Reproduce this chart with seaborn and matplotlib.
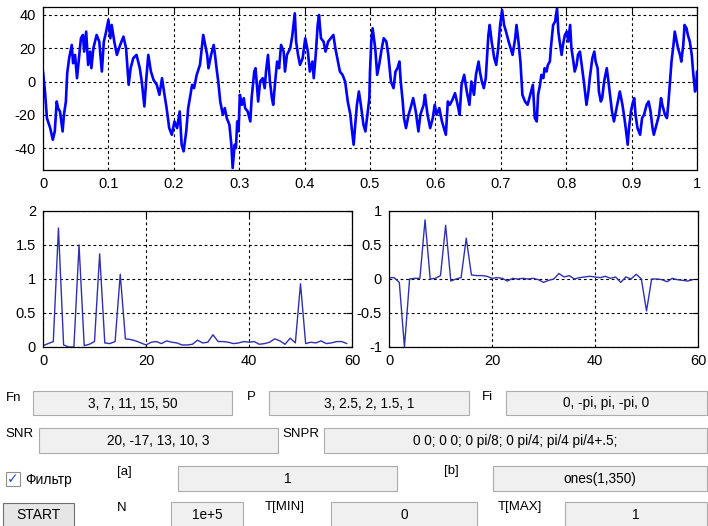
import matplotlib
matplotlib.use("Agg")
import matplotlib.pyplot as plt
from matplotlib.patches import Rectangle
import pandas as pd
import seaborn as sns

# ---- time-domain signal (t, amplitude) ----
signal_t = [
    0.000, 0.003, 0.006, 0.011, 0.015, 0.018, 0.021, 0.023, 0.026, 0.030, 0.032, 0.035, 0.037, 0.040,
    0.044, 0.046, 0.049, 0.052, 0.054, 0.058, 0.061, 0.063, 0.066, 0.069, 0.072, 0.074, 0.077, 0.082,
    0.086, 0.090, 0.093, 0.096, 0.100, 0.103, 0.105, 0.109, 0.113, 0.118, 0.123, 0.127, 0.131, 0.134,
    0.138, 0.143, 0.148, 0.151, 0.155, 0.158, 0.161, 0.165, 0.169, 0.174, 0.178, 0.182, 0.185, 0.189,
    0.193, 0.197, 0.201, 0.205, 0.209, 0.212, 0.215, 0.219, 0.222, 0.228, 0.231, 0.235, 0.240, 0.245,
    0.251, 0.253, 0.257, 0.261, 0.263, 0.266, 0.268, 0.271, 0.275, 0.278, 0.281, 0.285, 0.288, 0.290,
    0.293, 0.295, 0.297, 0.299, 0.301, 0.304, 0.307, 0.309, 0.313, 0.317, 0.319, 0.323, 0.325, 0.329,
    0.332, 0.336, 0.339, 0.341, 0.344, 0.347, 0.350, 0.352, 0.355, 0.358, 0.361, 0.364, 0.368, 0.370,
    0.373, 0.378, 0.381, 0.385, 0.387, 0.390, 0.393, 0.397, 0.401, 0.405, 0.408, 0.412, 0.414, 0.417,
    0.420, 0.422, 0.425, 0.429, 0.432, 0.436, 0.440, 0.444, 0.447, 0.451, 0.454, 0.458, 0.462, 0.466,
    0.470, 0.472, 0.475, 0.477, 0.480, 0.483, 0.486, 0.490, 0.493, 0.496, 0.499, 0.500,
    0.502, 0.504, 0.508, 0.511, 0.514, 0.518, 0.521, 0.525, 0.528, 0.532, 0.536, 0.539, 0.542, 0.545,
    0.547, 0.550, 0.552, 0.555, 0.559, 0.562, 0.566, 0.570, 0.574, 0.577, 0.582, 0.584, 0.588, 0.592,
    0.596, 0.599, 0.602, 0.606, 0.610, 0.613, 0.616, 0.619, 0.622, 0.626, 0.630, 0.634, 0.637, 0.640,
    0.644, 0.648, 0.652, 0.655, 0.659, 0.662, 0.666, 0.668, 0.671, 0.674, 0.677, 0.681, 0.683, 0.686,
    0.690, 0.693, 0.696, 0.699, 0.702, 0.705, 0.708, 0.712, 0.715, 0.718, 0.722, 0.724, 0.727, 0.730,
    0.733, 0.737, 0.741, 0.745, 0.749,
    0.752, 0.755, 0.757, 0.760, 0.762, 0.765, 0.767, 0.770, 0.772, 0.775, 0.777, 0.780, 0.783, 0.786,
    0.788, 0.790, 0.793, 0.795, 0.798, 0.801, 0.803, 0.806, 0.808, 0.811, 0.813, 0.816, 0.818, 0.821,
    0.823, 0.827, 0.831, 0.834, 0.836, 0.840, 0.843, 0.845, 0.848, 0.850, 0.853, 0.855, 0.858, 0.862,
    0.864, 0.867, 0.870, 0.873, 0.876, 0.879, 0.882, 0.886, 0.889, 0.891, 0.894, 0.896, 0.899, 0.901,
    0.904, 0.906, 0.909, 0.913, 0.916, 0.919, 0.923, 0.926, 0.929, 0.932, 0.934, 0.938, 0.942, 0.945,
    0.947, 0.951, 0.954, 0.956, 0.958, 0.961, 0.964, 0.966, 0.969, 0.971, 0.974, 0.976, 0.979, 0.981,
    0.984, 0.986, 0.989, 0.992, 0.994, 0.997, 0.999, 1.000,
]
signal_v = [
    6, -6, -22, -28, -35, -30, -12, -16, -18, -30, -20, -12, 5, 14,
    22, 11, 16, 2, 10, 26, 28, 18, 30, 10, 18, 8, 20, 28,
    24, 6, 24, 29, 37, 26, 34, 24, 16, 22, 27, 20, -2, 8,
    14, 16, 8, 0, -15, 2, 16, 6, 1, -2, -8, 2, -6, -16,
    -28, -32, -24, -28, -18, -38, -42, -30, -16, -2, -4, 4, 10, 28,
    16, 8, 16, 22, 16, 6, 0, -12, -20, -16, -22, -26, -38, -52,
    -38, -40, -24, -30, -8, -14, -10, -16, -18, -24, -10, 6, 8, -12,
    0, 2, -4, 6, 16, 0, -10, -14, 0, 12, 8, 22, 18, 6,
    16, 20, 27, 41, 24, 16, 10, 14, 26, 18, 6, 12, 2, 16,
    34, 40, 26, 24, 18, 24, 26, 28, 20, 12, 6, 4, 0, -12,
    -20, -28, -38, -28, -14, -6, -14, -26, -30, -20, -10, 6,
    24, 32, 20, 4, 10, 20, 26, 24, 16, 0, -4, 6, 8, 12,
    0, -12, -22, -28, -20, -16, -10, -18, -30, -20, -14, -8, -20, -28,
    -22, -14, -20, -16, -24, -28, -32, -12, -14, -11, -7, -14, -20, -2,
    4, -6, -14, 0, -8, 4, 12, 6, 0, -4, 2, 28, 34, 24,
    14, 10, 20, 34, 43, 34, 30, 24, 20, 16, 26, 34, 24, 12,
    -8, -12, -14, -8, -2,
    -22, -24, -8, -2, 4, 2, 8, 6, 10, 12, 22, 34, 36, 44,
    30, 24, 16, 22, 28, 30, 24, 34, 20, 12, 6, 10, 16, 18,
    12, 0, -14, -6, 2, 14, 18, 12, 8, -6, -12, -10, 0, 8,
    2, -8, -18, -24, -18, -12, -6, -14, -22, -28, -38, -28, -18, -14,
    -10, -20, -28, -32, -22, -20, -14, -12, -18, -28, -32, -26, -20, -10,
    -14, -20, -22, -14, -4, 12, 22, 30, 24, 20, 16, 12, 22, 34,
    32, 28, 24, 16, 6, -6, -2, 6,
]

# ---- spectra, 0..59 Hz ----
freq_hz = list(range(60))
amplitude = [
    0.02, 0.05, 0.08, 1.75, 0.03, 0.00, 0.00, 1.50, 0.02, 0.04,
    0.08, 1.37, 0.06, 0.05, 0.08, 1.07, 0.12, 0.11, 0.09, 0.06,
    0.03, 0.07, 0.08, 0.05, 0.09, 0.07, 0.06, 0.03, 0.03, 0.04,
    0.10, 0.06, 0.07, 0.18, 0.08, 0.08, 0.07, 0.05, 0.06, 0.08,
    0.07, 0.08, 0.04, 0.05, 0.07, 0.12, 0.09, 0.04, 0.13, 0.06,
    0.93, 0.05, 0.07, 0.06, 0.09, 0.05, 0.06, 0.08, 0.08, 0.05,
]
real_part = [
    0.02, 0.02, -0.05, -1.00, 0.00, 0.01, 0.01, 0.87, 0.00, 0.01,
    0.05, 0.79, -0.03, 0.00, 0.02, 0.60, 0.06, 0.05, 0.05, 0.04,
    0.01, 0.02, 0.01, -0.03, 0.01, 0.00, 0.01, 0.00, 0.01, -0.01,
    -0.05, -0.02, 0.00, 0.08, 0.03, 0.05, 0.00, 0.02, 0.03, 0.04,
    0.03, 0.02, 0.04, 0.01, 0.03, -0.05, 0.03, 0.00, 0.07, 0.00,
    -0.47, 0.00, 0.00, -0.01, -0.04, 0.01, -0.01, -0.02, -0.03, -0.01,
]

# ---- control panel fields ----
field_labels = ["Fn", "P", "Fi", "SNR", "SNPR", "[a]", "[b]", "N", "T[MIN]", "T[MAX]"]
field_values = ["3, 7, 11, 15, 50", "3, 2.5, 2, 1.5, 1", "0, -pi, pi, -pi, 0",
                "20, -17, 13, 10, 3", "0 0; 0 0; 0 pi/8; 0 pi/4; pi/4 pi/4+.5;",
                "1", "ones(1,350)", "1e+5", "0", "1"]
checkbox_label = "Фильтр"
button_label = "START"

sns.set_theme(style="white")
plt.rcParams["font.family"] = ["Liberation Sans", "DejaVu Sans"]

W, H = 708, 526
fig = plt.figure(figsize=(W / 100, H / 100), dpi=100)
fig.patch.set_facecolor("white")


def px_axes(x0, y0, x1, y1):
    return fig.add_axes([x0 / W, 1 - y1 / H, (x1 - x0) / W, (y1 - y0) / H])


def style_axes(ax, xticks, xlabels, yticks, ylabels):
    ax.set_facecolor("white")
    ax.set_xticks(xticks)
    ax.set_xticklabels(xlabels)
    ax.set_yticks(yticks)
    ax.set_yticklabels(ylabels)
    ax.set_xlabel("")
    ax.set_ylabel("")
    ax.grid(True, color="black", linestyle=(0, (2.5, 2.5)), linewidth=0.8)
    ax.tick_params(direction="in", length=4, width=0.8, top=True, right=True,
                   labelsize=10.5, colors="black", pad=5)
    for s in ax.spines.values():
        s.set_color("black")
        s.set_linewidth(0.9)
        s.set_visible(True)


# time signal
ax1 = px_axes(43, 7, 697, 170)
df_sig = pd.DataFrame({"t": signal_t, "v": signal_v})
sns.lineplot(data=df_sig, x="t", y="v", ax=ax1, color="#0000ff", linewidth=1.9,
             estimator=None, sort=False)
ax1.set_xlim(0, 1)
ax1.set_ylim(-53.2, 44.8)
style_axes(ax1, [i / 10 for i in range(11)],
           ["0"] + [f"0.{i}" for i in range(1, 10)] + ["1"],
           [-40, -20, 0, 20, 40], ["-40", "-20", "0", "20", "40"])

# amplitude spectrum
ax2 = px_axes(43, 211, 352, 347)
df_amp = pd.DataFrame({"f": freq_hz, "a": amplitude})
sns.lineplot(data=df_amp, x="f", y="a", ax=ax2, color="#3030b0", linewidth=1.0,
             estimator=None, sort=False)
ax2.set_xlim(0, 60)
ax2.set_ylim(0, 2)
style_axes(ax2, [0, 20, 40, 60], ["0", "20", "40", "60"],
           [0, 0.5, 1, 1.5, 2], ["0", "0.5", "1", "1.5", "2"])

# real part spectrum
ax3 = px_axes(389, 211, 698, 347)
df_re = pd.DataFrame({"f": freq_hz, "r": real_part})
sns.lineplot(data=df_re, x="f", y="r", ax=ax3, color="#3030b0", linewidth=1.0,
             estimator=None, sort=False)
ax3.set_xlim(0, 60)
ax3.set_ylim(-1, 1)
style_axes(ax3, [0, 20, 40, 60], ["0", "20", "40", "60"],
           [-1, -0.5, 0, 0.5, 1], ["-1", "-0.5", "0", "0.5", "1"])


# ---- control panel ----
def px_rect(x0, y0, x1, y1, face, edge, lw=0.8):
    fig.add_artist(Rectangle((x0 / W, 1 - y1 / H), (x1 - x0) / W, (y1 - y0) / H,
                             transform=fig.transFigure, facecolor=face,
                             edgecolor=edge, linewidth=lw))


def px_text(x, y, s, ha="left", size=10, color="black", **kw):
    return fig.text(x / W, 1 - y / H, s, ha=ha, va="center", fontsize=size,
                    color=color, **kw)


label_pos = [(6, 398), (247, 397), (482, 397), (5, 434), (282, 434),
             (117, 472), (444, 471), (117, 508), (265, 507), (498, 507)]
box_pos = [(33, 391, 232, 415), (269, 391, 469, 415), (506, 391, 707, 415),
           (39, 428, 278, 453), (324, 428, 707, 453),
           (178, 466, 397, 491), (493, 466, 707, 491),
           (171, 502, 243, 527), (331, 502, 477, 527), (565, 502, 707, 527)]

for lab, (lx, ly), (x0, y0, x1, y1), val in zip(field_labels, label_pos, box_pos, field_values):
    px_text(lx, ly, lab, size=9.5)
    px_rect(x0, y0, x1, y1, "#f0f0f0", "#acacac")
    px_text((x0 + x1) / 2, (y0 + y1) / 2 + 0.5, val, ha="center", size=9.8)

# checkbox
px_rect(6, 472, 20, 486, "#ffffff", "#8e8f8f")
px_text(13, 479, "\u2713", ha="center", size=10, color="#2a4fb5",
        fontweight="bold", family=["DejaVu Sans"])
px_text(25, 480, checkbox_label, size=10)

# start button
px_rect(3, 503, 74, 527, "#e6e6e6", "#707070")
px_text(38.5, 515, button_label, ha="center", size=10)

fig.savefig("out.png", dpi=100)
